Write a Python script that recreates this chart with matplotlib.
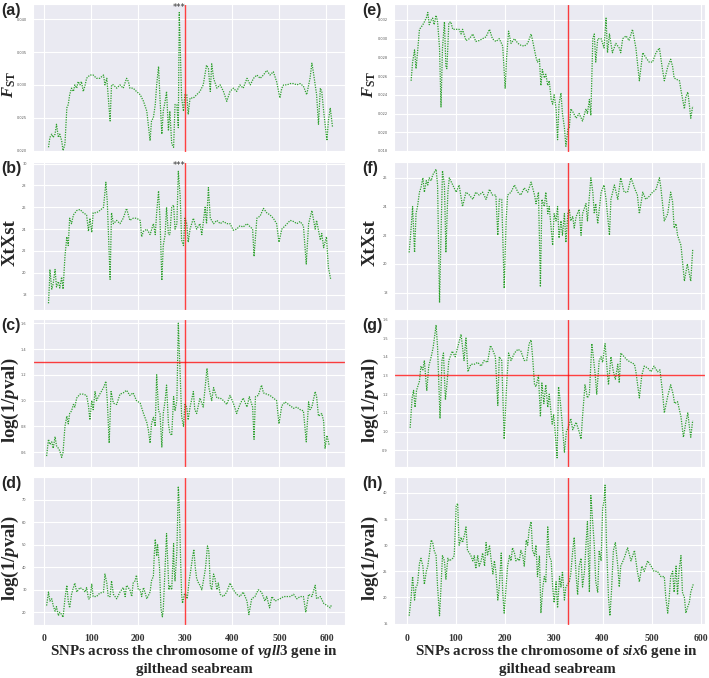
import matplotlib
matplotlib.use('Agg')
import matplotlib.pyplot as plt
import seaborn as sns

sns.set_style('darkgrid')
plt.rcParams['mathtext.fontset'] = 'custom'
plt.rcParams['mathtext.rm'] = 'Liberation Serif:bold'
plt.rcParams['mathtext.bf'] = 'Liberation Serif:bold'
plt.rcParams['mathtext.it'] = 'Liberation Serif:italic:bold'

# ---- vgll3 (left column) ----
fst_vgll3_x = [9, 12, 16, 19, 23, 26, 30, 33, 37, 40, 44, 48, 51, 54, 58, 62, 65, 69, 72, 76,
               79, 83, 87, 90, 97, 104, 111, 118, 126, 129, 133, 140, 143, 147, 154, 161, 168, 175, 179, 182,
               189, 196, 204, 211, 218, 225, 228, 232, 236, 239, 243, 246, 250, 253, 257, 260, 264, 267, 271, 275,
               278, 282, 285, 287, 289, 292, 296, 299, 303, 306, 310, 317, 324, 331, 338, 345, 349, 353, 356, 360,
               367, 374, 381, 388, 395, 402, 409, 416, 423, 431, 438, 445, 452, 459, 466, 473, 480, 487, 494, 501,
               505, 509, 516, 523, 530, 537, 544, 551, 558, 565, 569, 572, 579, 583, 587, 590, 594, 601, 604, 608, 613]
fst_vgll3 = [0.0205, 0.022, 0.0225, 0.022, 0.0225, 0.024, 0.022, 0.0225, 0.0215, 0.020,
             0.021, 0.0265, 0.027, 0.0285, 0.0295, 0.029, 0.030, 0.0295, 0.0305, 0.030,
             0.0305, 0.029, 0.030, 0.031, 0.0315, 0.0315, 0.031, 0.031, 0.0315, 0.030,
             0.031, 0.0245, 0.030, 0.030, 0.0295, 0.030, 0.0295, 0.031, 0.0305, 0.0295,
             0.0295, 0.029, 0.0285, 0.0275, 0.026, 0.0215, 0.0245, 0.025, 0.027, 0.030,
             0.0328, 0.028, 0.0225, 0.026, 0.0275, 0.029, 0.023, 0.026, 0.021, 0.0205,
             0.027, 0.027, 0.0235, 0.041, 0.036, 0.028, 0.026, 0.0285, 0.0285, 0.0255,
             0.028, 0.028, 0.0285, 0.029, 0.030, 0.033, 0.0325, 0.029, 0.0332, 0.031,
             0.0295, 0.030, 0.029, 0.0275, 0.029, 0.0295, 0.029, 0.030, 0.0295, 0.031,
             0.030, 0.031, 0.0315, 0.031, 0.0315, 0.0322, 0.0315, 0.032, 0.0305, 0.028,
             0.0295, 0.030, 0.030, 0.0302, 0.0302, 0.030, 0.0302, 0.0298, 0.0285, 0.031,
             0.0333, 0.032, 0.0285, 0.024, 0.0295, 0.029, 0.026, 0.0215, 0.0245, 0.0265, 0.0235]

xtx_vgll3_x = [9, 11, 12, 16, 19, 23, 26, 30, 33, 37, 40, 44, 48, 51, 54, 58, 62, 69, 76, 83,
               90, 94, 97, 101, 104, 111, 118, 126, 131, 134, 140, 143, 147, 154, 161, 168, 175, 182, 189, 196,
               204, 207, 211, 218, 225, 232, 236, 239, 243, 246, 250, 253, 257, 260, 264, 267, 271, 275, 278, 282,
               285, 289, 292, 296, 299, 303, 306, 310, 317, 324, 331, 335, 342, 345, 349, 353, 360, 367, 374, 381,
               388, 395, 402, 409, 416, 423, 431, 438, 443, 446, 452, 459, 466, 473, 480, 487, 494, 499, 505, 512,
               523, 530, 537, 544, 551, 557, 562, 569, 576, 579, 587, 590, 594, 600, 604, 609]
xtx_vgll3 = [17.2, 19, 20.3, 18.5, 19, 20.3, 18.7, 19.2, 18.6, 19.6,
             18.5, 21.5, 23.3, 22.5, 25, 24.5, 25.3, 25.7, 25.8, 25.5,
             25.3, 23.8, 25, 23.7, 25.5, 25.5, 25.7, 26, 28.3, 26.5,
             19.4, 25.5, 24.5, 24.8, 24.5, 25, 25.9, 24.8, 25, 25,
             24.8, 23.3, 23.8, 24, 23.5, 24.5, 23.5, 25.5, 27.5, 25,
             19.3, 22.5, 23.5, 26, 23.5, 23.5, 26, 26.2, 24, 24.5,
             29.3, 27, 23, 22.5, 25, 24.5, 22.8, 24, 25, 24,
             24.5, 23.5, 26, 24.5, 27.8, 25, 24.5, 24.8, 24.5, 24.7,
             24.5, 24.5, 23.9, 24, 24.3, 24.2, 24.5, 24.2, 24, 21.5,
             25, 25.2, 25.9, 25.5, 25.3, 25, 24.5, 22.8, 24, 24.3,
             24.8, 24.7, 24.5, 24.7, 24.3, 20.8, 24.5, 25.7, 24, 24.8,
             23, 23.6, 22.3, 23.3, 20.5, 19.4]

bayp_vgll3_x = [5, 9, 12, 16, 19, 23, 26, 30, 33, 37, 40, 44, 48, 51, 54, 58, 62, 65, 69, 76,
                83, 90, 94, 97, 101, 104, 108, 111, 118, 126, 131, 134, 138, 142, 147, 154, 161, 168, 175, 182,
                189, 196, 204, 211, 218, 221, 225, 228, 232, 236, 239, 243, 246, 250, 253, 257, 260, 264, 267, 271,
                275, 278, 282, 285, 289, 292, 296, 299, 303, 306, 310, 317, 320, 324, 331, 338, 342, 346, 350, 356,
                360, 367, 374, 381, 388, 395, 402, 409, 416, 423, 431, 436, 443, 446, 449, 455, 462, 466, 473, 480,
                487, 494, 499, 505, 512, 523, 530, 537, 544, 551, 557, 562, 565, 569, 576, 579, 583, 590, 594, 597,
                601, 606]
bayp_vgll3 = [0.57, 0.70, 0.66, 0.68, 0.63, 0.72, 0.65, 0.63, 0.61, 0.56,
              0.60, 0.80, 0.88, 0.82, 0.90, 0.92, 0.97, 0.95, 1.02, 1.05,
              1.05, 1.04, 0.96, 0.85, 1.0, 0.93, 1.07, 1.0, 1.05, 1.10,
              1.15, 1.0, 0.67, 1.07, 0.98, 0.97, 1.05, 1.06, 1.08, 1.04,
              1.06, 1.0, 0.98, 0.90, 0.83, 0.78, 0.67, 0.82, 0.87, 0.80,
              1.20, 0.92, 0.90, 0.64, 0.90, 1.0, 1.12, 0.82, 0.75, 0.73,
              1.03, 0.92, 1.0, 1.6, 1.2, 0.88, 0.80, 0.97, 0.95, 0.85,
              0.95, 1.07, 0.93, 0.90, 1.02, 0.95, 1.10, 1.25, 1.10, 1.0,
              1.10, 1.02, 1.02, 1.0, 0.97, 1.04, 0.98, 0.90, 0.97, 1.02,
              0.95, 1.03, 0.95, 0.70, 1.03, 1.04, 1.12, 1.06, 1.05, 1.04,
              1.02, 1.0, 0.82, 0.96, 0.99, 0.96, 0.94, 0.95, 0.93, 0.92,
              0.68, 0.99, 0.93, 0.95, 1.07, 1.03, 0.88, 0.90, 0.84, 0.63,
              0.73, 0.65]

lfmm_vgll3_x = [5, 9, 12, 16, 19, 23, 26, 30, 33, 37, 40, 44, 48, 51, 54, 58, 62, 65, 69, 76,
                83, 87, 90, 94, 97, 101, 104, 111, 118, 126, 129, 133, 136, 140, 143, 147, 154, 161, 168, 172,
                175, 182, 186, 189, 193, 196, 200, 204, 207, 211, 214, 218, 225, 228, 232, 234, 236, 239, 241, 245,
                248, 251, 253, 257, 260, 262, 265, 267, 271, 275, 276, 278, 282, 285, 287, 290, 292, 294, 298, 301,
                304, 308, 311, 315, 318, 321, 324, 328, 331, 335, 340, 343, 347, 350, 353, 356, 360, 363, 367, 370,
                374, 381, 388, 395, 402, 409, 416, 423, 431, 435, 441, 448, 455, 462, 469, 473, 479, 484, 491, 501,
                509, 516, 523, 530, 537, 544, 551, 556, 562, 569, 576, 579, 587, 594, 601, 608, 611]
lfmm_vgll3 = [23, 29, 25, 26, 23, 20.5, 22.5, 18.5, 20, 19,
              17.8, 26, 32, 25, 22, 28, 31, 33, 29, 31,
              30, 29, 31, 26, 26, 32.5, 27, 27, 28.5, 29,
              37, 33, 27, 27, 34, 28, 26, 29, 31, 27,
              32, 30, 27, 33, 34, 36.5, 30, 30, 27, 31,
              29, 26, 29, 34, 36, 46, 52.5, 45, 50, 40,
              22, 18, 21, 40, 55, 45, 30, 32, 30, 50.5,
              40, 34, 47, 76, 68, 42, 28, 24, 28, 28,
              26, 34, 38, 44, 48, 40, 35, 33, 32, 30,
              36, 40, 49.5, 47, 32, 30, 37, 35, 30, 33,
              28, 27, 29, 33, 30, 28, 27, 29, 25, 19,
              26, 27, 30, 29, 25, 27, 22, 27, 25, 26,
              27, 27, 27, 28, 26, 27, 27, 20, 28, 27,
              32, 26, 27, 24, 23, 22, 23.5]

# ---- six6 (right column) ----
fst_six6_x = [9, 12, 16, 19, 22, 26, 29, 33, 36, 40, 43, 46, 50, 53, 56, 60, 63, 67, 70, 73,
              77, 80, 82, 86, 90, 94, 101, 107, 111, 114, 121, 128, 135, 141, 148, 155, 162, 169, 175, 182,
              189, 196, 201, 204, 208, 213, 220, 227, 233, 240, 247, 254, 257, 264, 267, 271, 274, 277, 281, 284,
              288, 291, 295, 298, 301, 305, 308, 311, 315, 318, 322, 325, 329, 332, 335, 339, 346, 352, 359, 366,
              369, 373, 376, 380, 383, 386, 390, 397, 403, 407, 410, 414, 420, 427, 434, 437, 441, 448, 454, 461,
              468, 475, 482, 488, 495, 502, 509, 516, 522, 526, 533, 539, 543, 546, 553, 557, 560, 567, 570, 574,
              577, 580, 584]
fst_six6 = [0.0255, 0.0275, 0.0288, 0.0268, 0.0285, 0.031, 0.0312, 0.0315, 0.0318, 0.0322,
            0.0328, 0.0315, 0.032, 0.0322, 0.0315, 0.0325, 0.0318, 0.029, 0.0227, 0.029,
            0.0318, 0.027, 0.0268, 0.0317, 0.0318, 0.031, 0.031, 0.031, 0.0305, 0.031,
            0.0298, 0.030, 0.0305, 0.0297, 0.0298, 0.030, 0.0302, 0.031, 0.030, 0.0297,
            0.030, 0.0292, 0.0247, 0.028, 0.0308, 0.0295, 0.030, 0.0295, 0.0293, 0.0292,
            0.0295, 0.0305, 0.0298, 0.028, 0.0275, 0.0278, 0.025, 0.0267, 0.0258, 0.0262,
            0.025, 0.0255, 0.0235, 0.023, 0.024, 0.0225, 0.0192, 0.023, 0.0242, 0.022,
            0.0205, 0.0185, 0.0203, 0.0205, 0.0225, 0.0222, 0.0215, 0.022, 0.0212, 0.0225,
            0.022, 0.0235, 0.0218, 0.030, 0.0305, 0.0275, 0.030, 0.030, 0.029, 0.0322,
            0.0285, 0.0305, 0.0285, 0.0295, 0.029, 0.0285, 0.030, 0.0303, 0.0298, 0.031,
            0.029, 0.0255, 0.0285, 0.028, 0.0275, 0.0275, 0.0285, 0.029, 0.0268, 0.0255,
            0.027, 0.0278, 0.027, 0.0258, 0.0256, 0.0255, 0.0245, 0.0225, 0.0238, 0.0243,
            0.023, 0.0215, 0.0228]

xtx_six6_x = [5, 9, 12, 16, 19, 22, 26, 29, 33, 36, 40, 43, 46, 50, 53, 60, 63, 67, 70, 73,
              77, 80, 84, 87, 94, 101, 107, 114, 121, 128, 135, 141, 148, 155, 162, 169, 175, 182, 186, 189,
              194, 199, 203, 206, 213, 220, 227, 233, 240, 247, 254, 261, 264, 269, 273, 276, 281, 284, 288, 291,
              298, 301, 305, 308, 311, 315, 318, 322, 325, 329, 332, 335, 339, 342, 346, 352, 356, 359, 366, 369,
              376, 380, 383, 386, 390, 397, 403, 407, 414, 417, 424, 431, 437, 444, 451, 458, 465, 471, 475, 482,
              488, 495, 502, 509, 516, 519, 526, 533, 539, 543, 546, 550, 553, 560, 567, 573, 580, 584]
xtx_six6 = [20.8, 22.5, 24, 20.8, 23.5, 24, 25, 25.3, 26, 25,
            25.8, 25.5, 26, 25.8, 26.2, 26.6, 25.5, 17.3, 22, 26.5,
            25.5, 20.8, 25, 26, 25.5, 25, 25.5, 24, 25, 24.8,
            24.5, 25, 24.8, 25, 24.5, 25.2, 24.8, 24.8, 22, 24.5,
            24.5, 18.3, 23, 24.8, 25, 25.5, 25, 24.8, 25.3, 25,
            25.7, 24.8, 24.2, 25, 18.4, 24.5, 24, 25, 23.5, 24,
            21.3, 23.5, 23, 24, 21.8, 23, 22, 23.5, 21.5, 23.5,
            23.8, 23, 23.3, 22.5, 23.3, 23.8, 22, 23.5, 24.2, 23,
            26, 25, 23.5, 24.2, 22.8, 25, 25.5, 24.5, 22, 24.5,
            25.5, 24.5, 26, 25, 25, 26, 25.3, 24.8, 23.5, 25,
            24.5, 24.7, 25, 25.2, 26, 25.3, 23, 23.5, 25, 24.3,
            22.5, 22.8, 22, 21.3, 18.8, 20, 18.8, 21]

bayp_six6_x = [7, 11, 14, 17, 20, 26, 29, 33, 36, 40, 41, 45, 50, 54, 60, 63, 68, 72, 75, 79,
               82, 86, 93, 99, 104, 111, 114, 117, 121, 125, 131, 138, 145, 152, 158, 165, 171, 175, 181, 186,
               189, 194, 199, 204, 208, 213, 220, 227, 233, 240, 245, 250, 254, 257, 261, 264, 269, 273, 276, 280,
               284, 288, 291, 297, 300, 303, 307, 310, 314, 318, 322, 326, 331, 335, 339, 346, 352, 356, 359, 364,
               369, 373, 378, 381, 385, 388, 393, 397, 400, 405, 409, 412, 417, 422, 426, 431, 434, 437, 444, 451,
               458, 465, 468, 475, 480, 485, 492, 499, 505, 512, 517, 522, 526, 533, 539, 544, 547, 553, 560, 565,
               570, 574, 577, 580, 584]
bayp_six6 = [1.02, 1.18, 1.22, 1.13, 1.22, 1.27, 1.35, 1.33, 1.38, 1.25,
             1.22, 1.35, 1.40, 1.45, 1.57, 1.45, 1.07, 1.38, 1.42, 1.17,
             1.25, 1.38, 1.43, 1.40, 1.45, 1.52, 1.45, 1.38, 1.50, 1.32,
             1.36, 1.36, 1.37, 1.35, 1.38, 1.37, 1.46, 1.44, 1.40, 1.14,
             1.40, 1.38, 0.96, 1.25, 1.42, 1.38, 1.42, 1.44, 1.43, 1.38,
             1.38, 1.47, 1.49, 1.40, 1.25, 1.24, 1.30, 1.08, 1.26, 1.15,
             1.25, 1.13, 1.20, 1.04, 1.09, 1.00, 0.86, 1.24, 1.15, 1.03,
             0.89, 1.0, 1.03, 1.07, 1.01, 1.05, 1.0, 0.96, 1.08, 1.25,
             1.18, 1.20, 1.47, 1.40, 1.30, 1.20, 1.38, 1.40, 1.37, 1.47,
             1.34, 1.25, 1.40, 1.32, 1.28, 1.36, 1.26, 1.42, 1.40, 1.38,
             1.37, 1.36, 1.32, 1.18, 1.30, 1.35, 1.34, 1.32, 1.35, 1.32,
             1.33, 1.22, 1.10, 1.19, 1.25, 1.20, 1.15, 1.16, 1.08, 0.97,
             1.05, 1.10, 1.03, 0.97, 1.06]

lfmm_six6_x = [5, 9, 12, 16, 19, 22, 26, 29, 33, 36, 40, 43, 46, 50, 53, 56, 60, 63, 67, 70,
               73, 77, 80, 84, 87, 94, 97, 101, 104, 107, 111, 114, 118, 121, 124, 128, 131, 135, 138, 141,
               145, 148, 152, 155, 159, 162, 165, 169, 172, 176, 179, 182, 186, 189, 193, 196, 199, 203, 206, 210,
               213, 216, 220, 223, 227, 230, 233, 237, 240, 244, 247, 250, 254, 257, 261, 264, 267, 271, 274, 278,
               281, 284, 288, 291, 295, 298, 301, 305, 308, 312, 315, 318, 322, 325, 332, 335, 339, 342, 346, 349,
               352, 356, 359, 363, 366, 369, 373, 376, 380, 383, 386, 390, 393, 397, 400, 403, 405, 408, 412, 415,
               418, 422, 426, 431, 434, 437, 444, 451, 458, 465, 471, 475, 480, 485, 492, 499, 505, 512, 519, 526,
               529, 533, 536, 539, 543, 546, 550, 553, 556, 560, 563, 567, 570, 573, 577, 580, 585]
lfmm_six6 = [16.5, 20, 24, 19.5, 22, 22.5, 26.5, 27.5, 26, 22.5,
             25, 26, 28, 31, 30.5, 29, 28, 22, 16.5, 22,
             28, 27, 23.5, 27.5, 27, 27.5, 28, 37.5, 38, 30,
             31.5, 30.5, 32, 33.5, 29, 28.5, 28, 27, 28, 25.5,
             28, 26, 27, 28.5, 26, 30.5, 28, 30, 27.5, 24.5,
             27, 25, 19.5, 22, 28.5, 21, 17, 22, 26, 28,
             27, 29.5, 28.5, 27, 27.5, 27, 29, 28, 26, 31,
             30, 33, 34.5, 29, 28, 30, 24, 28, 17, 22,
             24, 23, 33.5, 28, 27, 22, 19, 23, 18, 24,
             22, 25, 19.5, 22, 23, 24.5, 29, 31.5, 24, 20.5,
             26, 27.5, 22, 25, 30, 34.5, 21, 39.5, 34, 30,
             23, 21, 29, 27, 37, 38.5, 41.5, 30, 20, 16.5,
             21, 29, 30.5, 26, 22, 26, 27.5, 29.5, 27, 29,
             25, 23, 26, 25, 27, 26, 25, 25, 24, 24,
             20, 17, 20, 24, 25, 21, 26, 20.5, 25, 28,
             21, 20, 17, 18, 19, 21, 22.5]

fst_label = r'$F_{\mathrm{ST}}$'
xtx_label = 'XtXst'
logp_label = r'log(1/$p$val)'

# panel tag, x, y, y label, yticks, ylim, vline, hline
left_panels = [
    ('(a)', fst_vgll3_x, fst_vgll3, fst_label, [0.020, 0.025, 0.030, 0.035, 0.040], (0.0198, 0.0423), 300, None),
    ('(b)', xtx_vgll3_x, xtx_vgll3, xtx_label, [18, 20, 22, 24, 26, 28, 30], (16.6, 30.15), 300, None),
    ('(c)', bayp_vgll3_x, bayp_vgll3, logp_label, [0.6, 0.8, 1.0, 1.2, 1.4, 1.6], (0.484, 1.63), 300, 1.3),
    ('(d)', lfmm_vgll3_x, lfmm_vgll3, logp_label, [20, 30, 40, 50, 60, 70], (14.3, 80), 300, None),
]
right_panels = [
    ('(e)', fst_six6_x, fst_six6, fst_label, [0.018, 0.020, 0.022, 0.024, 0.026, 0.028, 0.030, 0.032], (0.0179, 0.0337), 330, None),
    ('(f)', xtx_six6_x, xtx_six6, xtx_label, [18, 20, 22, 24, 26], (16.8, 27.1), 330, None),
    ('(g)', bayp_six6_x, bayp_six6, logp_label, [0.9, 1.0, 1.1, 1.2, 1.3, 1.4, 1.5, 1.6], (0.81, 1.6), 330, 1.3),
    ('(h)', lfmm_six6_x, lfmm_six6, logp_label, [15, 20, 25, 30, 35, 40], (14.7, 43.0), 330, None),
]
xticks = [0, 100, 200, 300, 400, 500, 600]
star_x = [286, 286]
star_y = [0.0418, 29.85]

fig = plt.figure(figsize=(7.09, 6.78), dpi=100)
W, H = 709, 678
bottoms = [0.776, 0.543, 0.311, 0.078]
ph = 0.218

columns = [(left_panels, 0.0465, 0.4405, (-24, 640), 10.5, 194,
            r'SNPs across the chromosome of $\mathit{vgll3}$ gene in'),
           (right_panels, 0.5557, 0.4386, (-26, 609), 370.5, 557,
            r'SNPs across the chromosome of $\mathit{six6}$ gene in')]

for panels, x0, w, xlim, ylab_px, xlab_px, xlab_text in columns:
    for i, (tag, xs, ys, ylab, yt, ylim, vx, hy) in enumerate(panels):
        ax = fig.add_axes([x0, bottoms[i], w, ph])
        ax.plot(xs, ys, color='#2ca02c', linestyle=(0, (1, 1)), linewidth=0.9)
        ax.axvline(vx, color='red', alpha=0.75, linewidth=1.0)
        if hy is not None:
            ax.axhline(hy, color='red', alpha=0.75, linewidth=1.0)
        ax.set_xlim(*xlim)
        ax.set_ylim(*ylim)
        ax.set_yticks(yt)
        ax.set_xticks(xticks)
        ax.tick_params(axis='y', labelsize=2.5, colors='#555555', pad=1)
        if i == 3:
            ax.tick_params(axis='x', labelsize=7, colors='#333333', pad=3)
            for lab in ax.get_xticklabels():
                lab.set_fontfamily('Liberation Serif')
                lab.set_fontweight('bold')
        else:
            ax.set_xticklabels([])
        if tag in ('(a)', '(b)'):
            ax.text(star_x[i], star_y[i], '***', ha='center', va='center', fontsize=6, color='#333333')
        top_px = (1 - bottoms[i] - ph) * H
        fig.text((x0 * W - 32) / W, 1 - (top_px - 1.5) / H, tag, ha='left', va='top',
                 fontsize=11.5, fontweight='bold', family='Liberation Sans')
        # the F_ST label is a little smaller so its subscript stays clear of the ticks
        is_fst = ylab == fst_label
        lab_x = ylab_px - 1.5 if is_fst else ylab_px
        fig.text(lab_x / W, bottoms[i] + ph / 2 - 0.01, ylab, rotation=90, ha='center', va='center',
                 fontsize=12 if is_fst else 13.5, fontweight='bold', family='Liberation Serif')
    fig.text(xlab_px / W, 1 - 652 / H, xlab_text, ha='center', va='center',
             fontsize=10.8, fontweight='bold', family='Liberation Serif')
    fig.text(xlab_px / W, 1 - 670 / H, 'gilthead seabream', ha='center', va='center',
             fontsize=10.8, fontweight='bold', family='Liberation Serif')

fig.savefig('out.png', dpi=100)
